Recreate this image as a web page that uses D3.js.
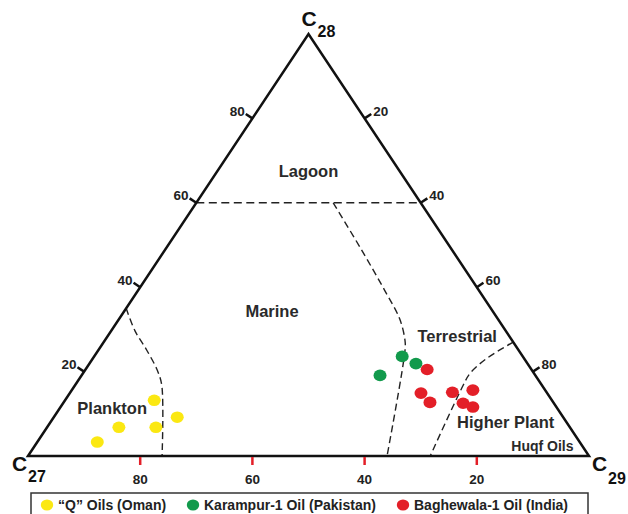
<!DOCTYPE html>
<html>
<head>
<meta charset="utf-8">
<script src="https://cdn.jsdelivr.net/npm/d3@7"></script>
<style>
  html, body { margin: 0; padding: 0; background: #fff; }
  svg { display: block; font-family: "Liberation Sans", Arial, sans-serif; }
</style>
</head>
<body>
<svg id="chart" width="628" height="514"></svg>
<script>
// Sterane distribution (C27 / C28 / C29), values in percent [C27, C28, C29]
const qOils = [[70.9, 13.2, 15.9], [68.8, 9.2, 22.0], [73.8, 6.8, 19.4], [80.4, 6.8, 12.8], [86.0, 3.3, 10.7]];
const karampurOils = [[21.5, 23.6, 54.9], [19.9, 21.9, 58.2], [27.7, 19.1, 53.2]];
const baghewalaOils = [[18.6, 20.5, 60.9], [22.5, 14.9, 62.6], [22.0, 12.7, 65.3], [16.8, 15.1, 68.1],
                       [12.9, 15.6, 71.5], [16.2, 12.5, 71.3], [14.9, 11.6, 73.5]];

// Environment field boundaries
const lagoonBoundary = [[40, 60, 0], [0, 60, 40]];
const marineBoundary = [[15.6, 60, 24.4], [16.1, 49.3, 34.6], [16.8, 39.2, 44.0], [17.5, 32.5, 50.0],
                        [19.1, 27.4, 53.5], [20.3, 25.0, 54.7], [36, 0, 64]];
const planktonBoundary = [[65, 35, 0], [66.1, 29.7, 4.2], [66.3, 25, 8.7], [66.8, 20.3, 12.9],
                          [67.8, 16.7, 15.5], [76.1, 0, 23.9]];
const higherPlantBoundary = [[0, 27, 73], [6.7, 23.1, 70.2], [11.4, 19.6, 69.0], [14.1, 16.7, 69.2], [28.3, 0, 71.7]];

// Field names and their anchor compositions
const fieldNames = ["Lagoon", "Marine", "Terrestrial", "Plankton", "Higher Plant", "Huqf Oils"];
const fieldAnchors = [[17, 66, 17], [40, 33, 27], [10, 27, 63], [80, 10, 10], [11.5, 6.7, 81.8], [7.7, 1.2, 91.1]];

const tickValues = [20, 40, 60, 80];

const seriesNames = ["\u201CQ\u201D Oils (Oman)", "Karampur-1 Oil (Pakistan)", "Baghewala-1 Oil (India)"];
const seriesColors = ["#fbe812", "#129a4c", "#e31f28"];

// ---- layout ----
const svg = d3.select("#chart");
const xScale = d3.scaleLinear().domain([0, 100]).range([28, 589]);
const yScale = d3.scaleLinear().domain([0, 100]).range([456, 34]);
const project = d => [xScale(d[2] + d[1] / 2), yScale(d[1])];

const vC27 = project([100, 0, 0]), vC28 = project([0, 100, 0]), vC29 = project([0, 0, 100]);

// boundaries (dashed)
const line = d3.line().x(d => project(d)[0]).y(d => project(d)[1]);
const curved = d3.line().x(d => project(d)[0]).y(d => project(d)[1]).curve(d3.curveCatmullRom.alpha(0.5));

svg.append("path").attr("d", line(lagoonBoundary))
  .attr("fill", "none").attr("stroke", "#222").attr("stroke-width", 1.5).attr("stroke-dasharray", "8,4.5");
[marineBoundary, planktonBoundary, higherPlantBoundary].forEach(b => {
  svg.append("path").attr("d", curved(b))
    .attr("fill", "none").attr("stroke", "#222").attr("stroke-width", 1.4).attr("stroke-dasharray", "7,4");
});

// triangle frame
svg.append("path")
  .attr("d", d3.line()([vC27, vC28, vC29]) + "Z")
  .attr("fill", "none").attr("stroke", "#111").attr("stroke-width", 2.5).attr("stroke-linejoin", "miter");

// ticks
function unit(a, b) { const dx = b[0] - a[0], dy = b[1] - a[1], l = Math.hypot(dx, dy); return [dx / l, dy / l]; }
const leftDir = unit(vC27, vC28);            // along left side
const leftNormal = [leftDir[1], -leftDir[0]];  // outward (up-left)
const rightDir = unit(vC28, vC29);
const rightNormal = [rightDir[1], -rightDir[0]]; // outward (up-right)

const tickLen = 8;
const axisFont = 13.5;

tickValues.forEach(v => {
  // left side: C28
  const p = project([100 - v, v, 0]);
  const e = [p[0] + leftNormal[0] * tickLen, p[1] + leftNormal[1] * tickLen];
  svg.append("line").attr("x1", p[0]).attr("y1", p[1]).attr("x2", e[0]).attr("y2", e[1])
    .attr("stroke", "#111").attr("stroke-width", 2.5);
  svg.append("text").attr("x", e[0] - 1).attr("y", e[1] + 2)
    .attr("text-anchor", "end").attr("font-size", axisFont).attr("font-weight", "bold").attr("fill", "#222")
    .text(v);

  // right side: C29
  const q = project([0, 100 - v, v]);
  const f = [q[0] + rightNormal[0] * tickLen, q[1] + rightNormal[1] * tickLen];
  svg.append("line").attr("x1", q[0]).attr("y1", q[1]).attr("x2", f[0]).attr("y2", f[1])
    .attr("stroke", "#111").attr("stroke-width", 2.5);
  svg.append("text").attr("x", f[0] + 2).attr("y", f[1] + 2)
    .attr("text-anchor", "start").attr("font-size", axisFont).attr("font-weight", "bold").attr("fill", "#222")
    .text(v);

  // base: C27
  const r = project([v, 0, 100 - v]);
  svg.append("line").attr("x1", r[0]).attr("y1", r[1] + 1).attr("x2", r[0]).attr("y2", r[1] + 9)
    .attr("stroke", "#e31f28").attr("stroke-width", 2.5);
  svg.append("text").attr("x", r[0]).attr("y", r[1] + 28)
    .attr("text-anchor", "middle").attr("font-size", axisFont).attr("font-weight", "bold").attr("fill", "#222")
    .text(v);
});

// vertex labels
function vertexLabel(x, y, sub, sx, sy) {
  svg.append("text").attr("x", x).attr("y", y).attr("font-size", 21).attr("font-weight", "bold").attr("fill", "#111").text("C");
  svg.append("text").attr("x", sx).attr("y", sy).attr("font-size", 16).attr("font-weight", "bold").attr("fill", "#111").text(sub);
}
vertexLabel(vC28[0] - 7, vC28[1] - 8, "28", vC28[0] + 9, vC28[1] + 3);
vertexLabel(vC27[0] - 16, vC27[1] + 15, "27", vC27[0] + 0, vC27[1] + 26);
vertexLabel(vC29[0] + 3, vC29[1] + 15, "29", vC29[0] + 19, vC29[1] + 28);

// field labels
fieldNames.forEach((name, i) => {
  const p = project(fieldAnchors[i]);
  svg.append("text").attr("x", p[0]).attr("y", p[1])
    .attr("text-anchor", "middle").attr("font-size", name === "Huqf Oils" ? 14 : 16.5)
    .attr("font-weight", "bold").attr("fill", "#2a2a2a")
    .text(name);
});

// samples
[qOils, karampurOils, baghewalaOils].forEach((series, i) => {
  svg.append("g").selectAll("ellipse").data(series).join("ellipse")
    .attr("cx", d => project(d)[0]).attr("cy", d => project(d)[1])
    .attr("rx", 6.5).attr("ry", 5.8)
    .attr("fill", seriesColors[i]);
});

// legend
const legend = svg.append("g");
legend.append("rect").attr("x", 31).attr("y", 493).attr("width", 557).attr("height", 24)
  .attr("fill", "#fff").attr("stroke", "#333").attr("stroke-width", 1.5);
const legendX = [47, 193, 403];
seriesNames.forEach((name, i) => {
  legend.append("ellipse").attr("cx", legendX[i]).attr("cy", 505).attr("rx", 6.2).attr("ry", 5.5)
    .attr("fill", seriesColors[i]);
  legend.append("text").attr("x", legendX[i] + 11).attr("y", 510)
    .attr("font-size", 14).attr("font-weight", "bold").attr("fill", "#222").text(name);
});
</script>
</body>
</html>
